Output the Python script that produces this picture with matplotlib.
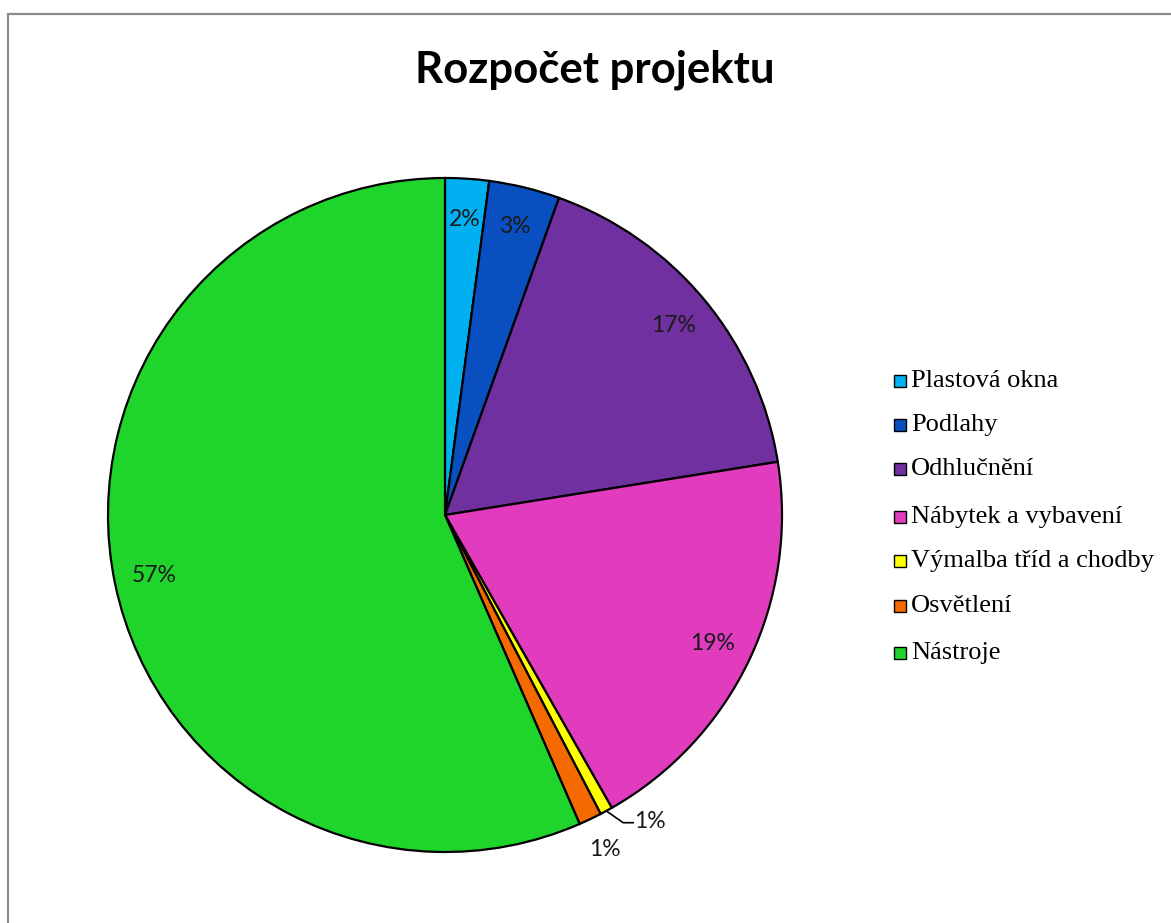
import numpy as np
import matplotlib
matplotlib.use("Agg")
import matplotlib.pyplot as plt
from matplotlib.patches import Rectangle

categories = ["Plastová okna", "Podlahy", "Odhlučnění", "Nábytek a vybavení",
              "Výmalba tříd a chodby", "Osvětlení", "Nástroje"]
values = [2.1, 3.4, 17.0, 19.3, 0.6, 1.1, 56.6]
colors = ["#00B0F0", "#0A4FC0", "#7030A0", "#E23CBE", "#FFFF00", "#F46A00", "#1FD52B"]

W, H = 1171, 923
fig = plt.figure(figsize=(W / 100, H / 100), dpi=100)

# chart-area border (Excel style, cut at right/bottom)
fig.patches.append(Rectangle((8 / W, -0.05), 1.2, (H - 14) / H + 0.05,
                             transform=fig.transFigure, fill=False,
                             edgecolor="#8C8C8C", lw=1.6))

cx, cy, r = 445, 515, 337
ax = fig.add_axes([(cx - r) / W, (H - cy - r) / H, 2 * r / W, 2 * r / H])
wedges, _ = ax.pie(values, colors=colors, startangle=90, counterclock=False,
                   radius=1, wedgeprops=dict(edgecolor="black", linewidth=1.6))
ax.set_xlim(-1, 1)
ax.set_ylim(-1, 1)
ax.set_aspect("equal")
ax.axis("off")

lab_font = dict(family=["Lato", "DejaVu Sans"], fontsize=16.5, color="#1a1a1a")
total = sum(values)
for i, (w, v) in enumerate(zip(wedges, values)):
    ang = np.deg2rad((w.theta1 + w.theta2) / 2)
    txt = f"{v / total * 100:.0f}%"
    if i == 4:
        x0, y0 = np.cos(ang), np.sin(ang)
        ax.plot([x0, x0 + 0.05, x0 + 0.08], [y0, y0 - 0.035, y0 - 0.035],
                color="black", lw=1.2, clip_on=False)
        ax.text(x0 + 0.082, y0 - 0.03, txt, ha="left", va="center", **lab_font)
    elif i == 5:
        ax.text(1.1 * np.cos(ang), 1.1 * np.sin(ang), txt,
                ha="center", va="center", **lab_font)
    else:
        d = 0.88
        ax.text(d * np.cos(ang), d * np.sin(ang), txt,
                ha="center", va="center", **lab_font)

fig.text(595 / W, 1 - 70 / H, "Rozpočet projektu", ha="center", va="center",
         family=["Lato", "DejaVu Sans"], fontweight="bold", fontsize=31.5)

# legend
leg_y = [381, 425, 469, 517, 561, 606, 653]
for name, c, yy in zip(categories, colors, leg_y):
    fig.patches.append(Rectangle((894 / W, 1 - (yy + 6) / H), 12 / W, 12 / H,
                                 transform=fig.transFigure, facecolor=c,
                                 edgecolor="black", lw=1))
    fig.text(911 / W, 1 - yy / H, name, ha="left", va="center",
             family=["Liberation Serif", "DejaVu Serif"], fontsize=19)

fig.savefig("out.png", dpi=100)
